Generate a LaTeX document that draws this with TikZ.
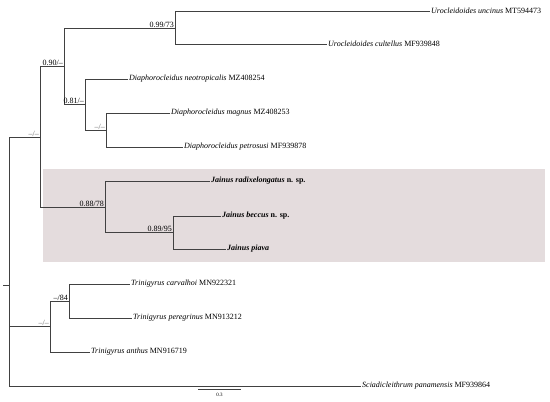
\documentclass[tikz,border=0pt]{standalone}
\usepackage{fontspec}
\usetikzlibrary{calc}
\setmainfont{Liberation Serif}
\definecolor{boxfill}{RGB}{228,220,221}
\definecolor{branch}{RGB}{65,65,65}
\definecolor{suppgray}{RGB}{100,100,100}
\begin{document}
\begin{tikzpicture}[x=1pt,y=-1pt,
  br/.style={draw=branch,line width=0.9pt},
  leaf/.style={anchor=west,inner sep=1pt,font=\fontsize{8}{9}\selectfont},
  supp/.style={anchor=south east,inner xsep=1pt,inner ysep=0.5pt,font=\fontsize{8}{9}\selectfont},
  suppg/.style={supp,text=suppgray},
  scalelab/.style={anchor=north,inner sep=1pt,font=\fontsize{5}{6}\selectfont}]
\useasboundingbox (0,0) rectangle (550,402);
\fill[boxfill] (43,169) rectangle (545,262);
% internal nodes
\coordinate (stem) at (3,285);
\coordinate (R) at (9,285);
\coordinate (A) at (40,137);
\coordinate (B) at (64,66);
\coordinate (C) at (175,28);
\coordinate (D) at (85,104);
\coordinate (E) at (106,130);
\coordinate (F) at (105,207);
\coordinate (G) at (173,232);
\coordinate (H) at (50,326);
\coordinate (I) at (69,301);
% leaves
\node[leaf] (unc) at (430,11) {\textit{Urocleidoides uncinus} MT594473};
\node[leaf] (cul) at (327,44) {\textit{Urocleidoides cultellus} MF939848};
\node[leaf] (neo) at (128,79) {\textit{Diaphorocleidus neotropicalis} MZ408254};
\node[leaf] (mag) at (170,113) {\textit{Diaphorocleidus magnus} MZ408253};
\node[leaf] (pet) at (183,147) {\textit{Diaphorocleidus petrosusi} MF939878};
\node[leaf] (rad) at (210,181) {\textbf{\textit{Jainus radixelongatus} n. sp.}};
\node[leaf] (bec) at (221,216) {\textbf{\textit{Jainus beccus} n. sp.}};
\node[leaf] (pia) at (226,249) {\textbf{\textit{Jainus piava}}};
\node[leaf] (car) at (130,284) {\textit{Trinigyrus carvalhoi} MN922321};
\node[leaf] (per) at (132,318) {\textit{Trinigyrus peregrinus} MN913212};
\node[leaf] (ant) at (90,352) {\textit{Trinigyrus anthus} MN916719};
\node[leaf] (sci) at (361,386) {\textit{Sciadicleithrum panamensis} MF939864};
% branches
\draw[br] (stem) -- (R);
\draw[br] (R) |- (A);
\draw[br] (R) |- (H);
\draw[br] (R) |- (sci.west);
\draw[br] (A) |- (B);
\draw[br] (A) |- (F);
\draw[br] (B) |- (C);
\draw[br] (B) |- (D);
\draw[br] (C) |- (unc.west);
\draw[br] (C) |- (cul.west);
\draw[br] (D) |- (neo.west);
\draw[br] (D) |- (E);
\draw[br] (E) |- (mag.west);
\draw[br] (E) |- (pet.west);
\draw[br] (F) |- (rad.west);
\draw[br] (F) |- (G);
\draw[br] (G) |- (bec.west);
\draw[br] (G) |- (pia.west);
\draw[br] (H) |- (I);
\draw[br] (H) |- (ant.west);
\draw[br] (I) |- (car.west);
\draw[br] (I) |- (per.west);
% support values
\node[suppg] (sA) at (A) {–/–};
\node[supp] (sB) at (B) {0.90/–};
\node[supp] (sC) at (C) {0.99/73};
\node[supp] (sD) at (D) {0.81/–};
\node[suppg] (sE) at (E) {–/–};
\node[supp] (sF) at (F) {0.88/78};
\node[supp] (sG) at (G) {0.89/95};
\node[suppg] (sH) at (H) {–/–};
\node[supp] (sI) at (I) {–/84};
% scale bar
\coordinate (sb1) at (198,389);
\coordinate (sb2) at (241,389);
\draw[br] (sb1) -- (sb2);
\node[scalelab] (sbl) at ($(sb1)!0.5!(sb2)+(0,3)$) {0.3};
\end{tikzpicture}
\end{document}
